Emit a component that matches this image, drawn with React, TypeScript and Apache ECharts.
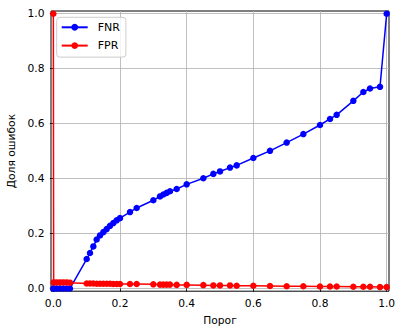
import React, { useEffect, useRef } from 'react';
import * as echarts from 'echarts';

const thresholds = [0, 0.001, 0.01, 0.02, 0.03, 0.04, 0.05, 0.10, 0.11, 0.12, 0.13, 0.14, 0.15, 0.16, 0.17, 0.18, 0.19, 0.20, 0.23, 0.25, 0.30, 0.32, 0.33, 0.34, 0.35, 0.37, 0.40, 0.45, 0.48, 0.50, 0.53, 0.55, 0.60, 0.65, 0.70, 0.75, 0.80, 0.83, 0.85, 0.90, 0.93, 0.95, 0.98, 1.00];
const fnr = [0, 0, 0, 0, 0, 0, 0, 0.107, 0.129, 0.153, 0.178, 0.193, 0.205, 0.216, 0.228, 0.238, 0.248, 0.256, 0.278, 0.293, 0.321, 0.335, 0.342, 0.348, 0.354, 0.362, 0.379, 0.401, 0.417, 0.426, 0.44, 0.448, 0.475, 0.501, 0.531, 0.562, 0.595, 0.617, 0.632, 0.683, 0.715, 0.728, 0.734, 1.0];
const fpr = [1.0, 0.022, 0.022, 0.022, 0.022, 0.022, 0.021, 0.018, 0.018, 0.018, 0.017, 0.017, 0.017, 0.017, 0.017, 0.016, 0.016, 0.016, 0.016, 0.016, 0.015, 0.014, 0.014, 0.014, 0.014, 0.013, 0.013, 0.012, 0.011, 0.011, 0.011, 0.010, 0.010, 0.009, 0.008, 0.008, 0.007, 0.007, 0.007, 0.006, 0.006, 0.006, 0.005, 0.005];
const tickValues = [0, 0.2, 0.4, 0.6, 0.8, 1.0];

const FONT = 'DejaVu Sans';

export default function App() {
  const ref = useRef<HTMLDivElement>(null);
  useEffect(() => {
    if (!ref.current) return;
    const chart = echarts.init(ref.current, null, { renderer: 'svg' });
    const axisCommon = {
      type: 'value' as const,
      axisLine: { show: false },
      axisTick: {
        show: true,
        inside: false,
        length: 3.5,
        lineStyle: { color: '#000', width: 0.8 },
        customValues: tickValues,
      },
      axisLabel: {
        customValues: tickValues,
        color: '#000',
        fontFamily: FONT,
        fontSize: 10.7,
        margin: 6.5,
        formatter: (v: number) => v.toFixed(1),
      },
      splitLine: { show: true, lineStyle: { color: '#b0b0b0', width: 0.8 } },
      nameLocation: 'middle' as const,
      nameTextStyle: { color: '#000', fontFamily: FONT, fontSize: 10.7 },
    };
    chart.setOption({
      animation: false,
      backgroundColor: '#fff',
      grid: {
        left: 51,
        right: 7,
        top: 11,
        bottom: 34.8,
        show: true,
        borderColor: '#000',
        borderWidth: 1,
        backgroundColor: '#fff',
        containLabel: false,
        outerBoundsMode: 'none',
      },
      legend: {
        orient: 'vertical',
        left: 56.7,
        top: 17.3,
        padding: [3.5, 6, 5, 4],
        itemWidth: 26,
        itemHeight: 8.5,
        itemGap: 5.3,
        backgroundColor: 'rgba(255,255,255,0.8)',
        borderColor: '#cccccc',
        borderWidth: 1,
        borderRadius: 3,
        textStyle: { color: '#000', fontFamily: FONT, fontSize: 11, lineHeight: 13, padding: [0, 0, 0, 5] },
        data: ['FNR', 'FPR'],
      },
      xAxis: {
        ...axisCommon,
        min: -0.007,
        max: 1.007,
        name: 'Порог',
        nameGap: 24,
      },
      yAxis: {
        ...axisCommon,
        min: -0.01,
        max: 1.01,
        name: 'Доля ошибок',
        nameGap: 32,
      },
      series: [
        {
          name: 'FNR',
          type: 'line',
          data: thresholds.map((t, i) => [t, fnr[i]]),
          symbol: 'circle',
          symbolSize: 6.5,
          showAllSymbol: true,
          clip: false,
          color: '#0000ff',
          lineStyle: { color: '#0000ff', width: 1.5 },
          itemStyle: { color: '#0000ff' },
        },
        {
          name: 'FPR',
          type: 'line',
          data: thresholds.map((t, i) => [t, fpr[i]]),
          symbol: 'circle',
          symbolSize: 6.5,
          showAllSymbol: true,
          clip: false,
          color: '#ff0000',
          lineStyle: { color: '#ff0000', width: 1.5 },
          itemStyle: { color: '#ff0000' },
        },
      ],
    });
    return () => chart.dispose();
  }, []);
  return <div ref={ref} style={{ position: 'fixed', left: 0, top: 0, width: 396, height: 326 }} />;
}
